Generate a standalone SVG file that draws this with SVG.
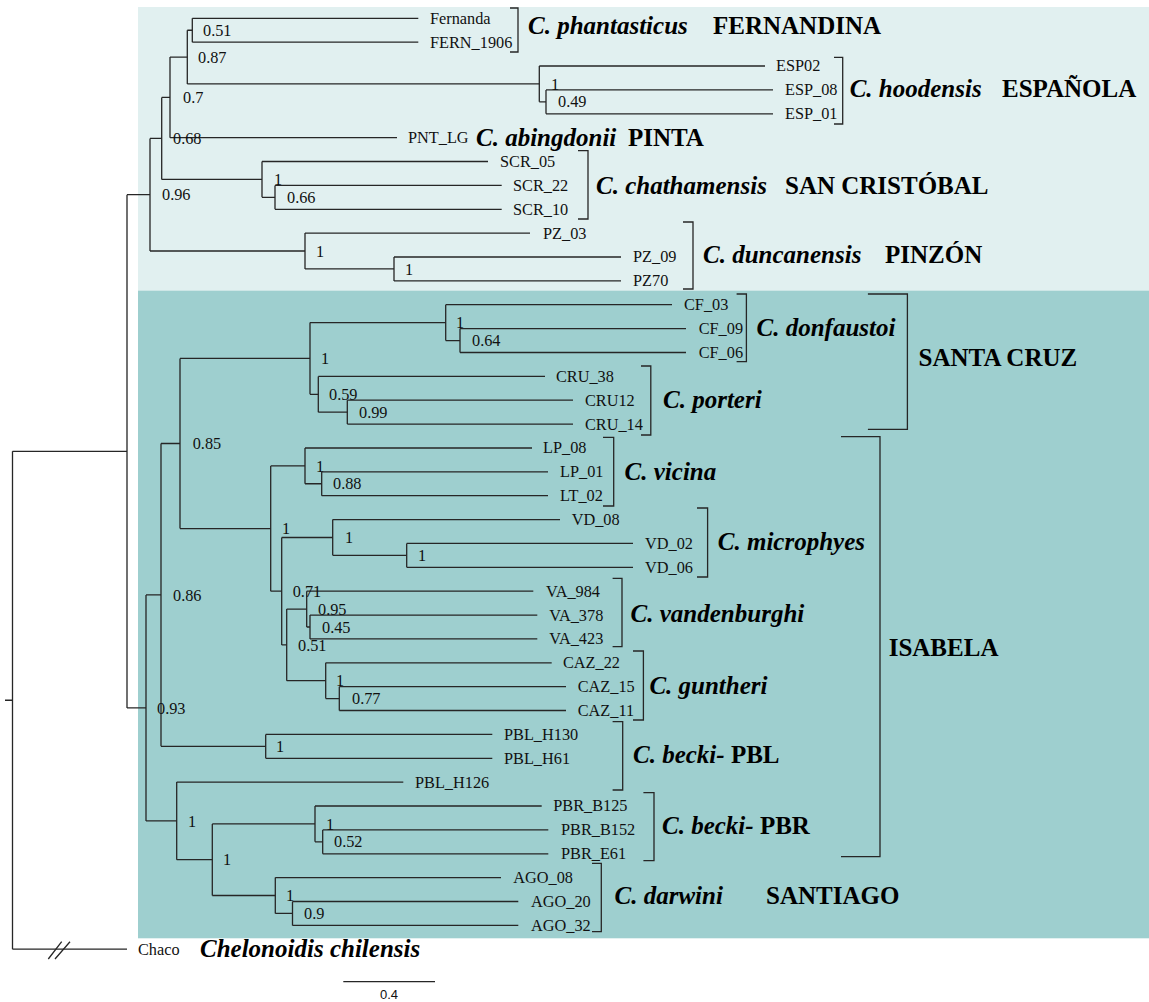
<svg xmlns="http://www.w3.org/2000/svg" width="1149" height="1002" viewBox="0 0 1149 1002">
<style>
.br{stroke:#262626;stroke-width:1.3;fill:none}
.bk{stroke:#262626;stroke-width:1.3;fill:none}
.lf{font-family:"Liberation Serif","Times New Roman",serif;font-size:16.3px;fill:#111}
.su{font-family:"Liberation Serif","Times New Roman",serif;font-size:16.3px;fill:#111}
.sp{font-family:"Liberation Serif","Times New Roman",serif;font-size:25px;font-weight:bold;font-style:italic;fill:#000}
.is{font-family:"Liberation Serif","Times New Roman",serif;font-size:25px;font-weight:bold;fill:#000}
.up{font-style:normal}
.sc{font-family:"Liberation Sans",Arial,sans-serif;font-size:13px;fill:#111}
</style>
<rect width="1149" height="1002" fill="#ffffff"/>
<g id="panel-north">
<rect x="138" y="7" width="1011" height="284" fill="#e1f0f0"/>
</g>
<g id="panel-central">
<rect x="138" y="290.7" width="1011" height="647.6" fill="#9ecfcf"/>
</g>
<g id="connectors" class="br">
<path d="M192.3 18.3V42.2M192.3 18.3H418.3M192.3 42.2H418.3"/>
<path d="M546 89.9V113.8M546 89.9H773M546 113.8H773"/>
<path d="M539.3 66V101.85M539.3 66H765M539.3 101.85H546"/>
<path d="M187.3 30.25V83.9M187.3 30.25H192.3M187.3 83.9H539.3"/>
<path d="M170 57.1V137.7M170 57.1H187.3M170 137.7H397"/>
<path d="M275 185.4V209.3M275 185.4H501.7M275 209.3H501.7"/>
<path d="M262 161.5V197.35M262 161.5H488M262 197.35H275"/>
<path d="M161.7 97.4V179.4M161.7 97.4H170M161.7 179.4H262"/>
<path d="M394 257V280.9M394 257H621M394 280.9H621"/>
<path d="M305 233.1V268.95M305 233.1H530M305 268.95H394"/>
<path d="M150 138.4V251M150 138.4H161.7M150 251H305"/>
<path d="M460 328.6V352.5M460 328.6H686M460 352.5H686"/>
<path d="M445.7 304.7V340.55M445.7 304.7H672M445.7 340.55H460"/>
<path d="M347.3 400.2V424.1M347.3 400.2H573M347.3 424.1H573"/>
<path d="M318.3 376.4V412.15M318.3 376.4H545M318.3 412.15H347.3"/>
<path d="M310 322.6V394.3M310 322.6H445.7M310 394.3H318.3"/>
<path d="M321.7 471.8V495.7M321.7 471.8H548M321.7 495.7H548"/>
<path d="M305 448V483.75M305 448H532M305 483.75H321.7"/>
<path d="M406.7 543.4V567.3M406.7 543.4H633M406.7 567.3H633"/>
<path d="M332.7 519.6V555.35M332.7 519.6H560M332.7 555.35H406.7"/>
<path d="M310 615.1V638.9M310 615.1H537.3M310 638.9H537.3"/>
<path d="M306.7 591.2V627M306.7 591.2H533.3M306.7 627H310"/>
<path d="M339.3 686.7V710.5M339.3 686.7H566M339.3 710.5H566"/>
<path d="M325.7 662.8V698.6M325.7 662.8H551.7M325.7 698.6H339.3"/>
<path d="M286.7 609.1V680.7M286.7 609.1H306.7M286.7 680.7H325.7"/>
<path d="M281.7 537.5V644.9M281.7 537.5H332.7M281.7 644.9H286.7"/>
<path d="M270.7 465.9V591.2M270.7 465.9H305M270.7 591.2H281.7"/>
<path d="M180 358.45V528.55M180 358.45H310M180 528.55H270.7"/>
<path d="M265.7 734.4V758.3M265.7 734.4H492.3M265.7 758.3H492.3"/>
<path d="M161 443.5V746.35M161 443.5H180M161 746.35H265.7"/>
<path d="M322.7 829.9V853.8M322.7 829.9H548.3M322.7 853.8H548.3"/>
<path d="M315 806V841.85M315 806H541.7M315 841.85H322.7"/>
<path d="M292.5 901.5V925.4M292.5 901.5H518.3M292.5 925.4H518.3"/>
<path d="M275.3 877.6V913.45M275.3 877.6H501M275.3 913.45H292.5"/>
<path d="M212.3 823.9V895.5M212.3 823.9H315M212.3 895.5H275.3"/>
<path d="M176.7 782.1V859.7M176.7 782.1H403.3M176.7 859.7H212.3"/>
<path d="M146 594.9V820.9M146 594.9H161M146 820.9H176.7"/>
<path d="M127 194.7V707.9M127 194.7H150M127 707.9H146"/>
<path d="M12.5 451.3V949.2M12.5 451.3H127M12.5 949.2H127M5 700.25H12.5"/>
<path d="M48.3 959L61.7 941.7M55 959L70 941.7"/>
</g>
<g id="support-values" class="su">
<text x="203" y="35.9">0.51</text>
<text x="198" y="62.7">0.87</text>
<text x="183" y="103">0.7</text>
<text x="173" y="144">0.68</text>
<text x="551" y="89.5">1</text>
<text x="558" y="107.4">0.49</text>
<text x="274" y="185">1</text>
<text x="287" y="203">0.66</text>
<text x="162" y="200.3">0.96</text>
<text x="316" y="256.6">1</text>
<text x="405" y="274.5">1</text>
<text x="456" y="328.2">1</text>
<text x="472" y="346.1">0.64</text>
<text x="321" y="364">1</text>
<text x="329" y="399.9">0.59</text>
<text x="359" y="417.7">0.99</text>
<text x="192.7" y="449.1">0.85</text>
<text x="316" y="471.5">1</text>
<text x="333" y="489.3">0.88</text>
<text x="282" y="534.1">1</text>
<text x="345" y="543.1">1</text>
<text x="418" y="560.9">1</text>
<text x="292.7" y="596.8">0.71</text>
<text x="318" y="614.7">0.95</text>
<text x="322" y="632.6">0.45</text>
<text x="298" y="650.5">0.51</text>
<text x="336" y="686.3">1</text>
<text x="352" y="704.2">0.77</text>
<text x="173" y="600.5">0.86</text>
<text x="276" y="751.9">1</text>
<text x="157" y="713.5">0.93</text>
<text x="188" y="826.5">1</text>
<text x="223" y="865.3">1</text>
<text x="326" y="829.5">1</text>
<text x="334" y="847.4">0.52</text>
<text x="286" y="901.1">1</text>
<text x="304" y="919">0.9</text>
</g>
<g id="leaves" class="lf">
<text id="leaf-Fernanda" x="430" y="23.7">Fernanda</text>
<text id="leaf-FERN_1906" x="430" y="47.6">FERN_1906</text>
<text id="leaf-ESP02" x="776" y="71.4">ESP02</text>
<text id="leaf-ESP_08" x="785" y="95.3">ESP_08</text>
<text id="leaf-ESP_01" x="785" y="119.2">ESP_01</text>
<text id="leaf-PNT_LG" x="408" y="143.1">PNT_LG</text>
<text id="leaf-SCR_05" x="500" y="166.9">SCR_05</text>
<text id="leaf-SCR_22" x="513" y="190.8">SCR_22</text>
<text id="leaf-SCR_10" x="513" y="214.7">SCR_10</text>
<text id="leaf-PZ_03" x="543" y="238.5">PZ_03</text>
<text id="leaf-PZ_09" x="633" y="262.4">PZ_09</text>
<text id="leaf-PZ70" x="633" y="286.3">PZ70</text>
<text id="leaf-CF_03" x="684" y="310.1">CF_03</text>
<text id="leaf-CF_09" x="698.7" y="334">CF_09</text>
<text id="leaf-CF_06" x="698.7" y="357.9">CF_06</text>
<text id="leaf-CRU_38" x="556" y="381.8">CRU_38</text>
<text id="leaf-CRU12" x="585" y="405.6">CRU12</text>
<text id="leaf-CRU_14" x="585" y="429.5">CRU_14</text>
<text id="leaf-LP_08" x="543" y="453.4">LP_08</text>
<text id="leaf-LP_01" x="560" y="477.2">LP_01</text>
<text id="leaf-LT_02" x="560" y="501.1">LT_02</text>
<text id="leaf-VD_08" x="571.7" y="525">VD_08</text>
<text id="leaf-VD_02" x="645" y="548.8">VD_02</text>
<text id="leaf-VD_06" x="645" y="572.7">VD_06</text>
<text id="leaf-VA_984" x="546" y="596.6">VA_984</text>
<text id="leaf-VA_378" x="549.3" y="620.5">VA_378</text>
<text id="leaf-VA_423" x="549.3" y="644.3">VA_423</text>
<text id="leaf-CAZ_22" x="563" y="668.2">CAZ_22</text>
<text id="leaf-CAZ_15" x="577.7" y="692.1">CAZ_15</text>
<text id="leaf-CAZ_11" x="577.7" y="715.9">CAZ_11</text>
<text id="leaf-PBL_H130" x="504" y="739.8">PBL_H130</text>
<text id="leaf-PBL_H61" x="504" y="763.7">PBL_H61</text>
<text id="leaf-PBL_H126" x="415" y="787.5">PBL_H126</text>
<text id="leaf-PBR_B125" x="553.3" y="811.4">PBR_B125</text>
<text id="leaf-PBR_B152" x="561" y="835.3">PBR_B152</text>
<text id="leaf-PBR_E61" x="561" y="859.2">PBR_E61</text>
<text id="leaf-AGO_08" x="513.3" y="883">AGO_08</text>
<text id="leaf-AGO_20" x="531" y="906.9">AGO_20</text>
<text id="leaf-AGO_32" x="531" y="930.8">AGO_32</text>
<text id="leaf-Chaco" x="138" y="954.6">Chaco</text>
</g>
<g id="brackets" class="bk">
<path d="M510 8H518V52H510"/>
<path d="M834 57.3H842.7V124H834"/>
<path d="M578 150.7H588V219H578"/>
<path d="M683 222H693V289H683"/>
<path d="M736.6 294H746.4V361.7H736.6"/>
<path d="M641 366H650.8V435H641"/>
<path d="M603 437.3H613.7V506H603"/>
<path d="M697 508H707.6V577H697"/>
<path d="M612.6 578.3H622V646.7H612.6"/>
<path d="M633 651H643.4V720H633"/>
<path d="M612.6 721.7H622.7V790H612.6"/>
<path d="M643.4 792.7H654V860.7H643.4"/>
<path d="M592 863.3H601.3V931.7H592"/>
<path d="M867.9 294H907.4V429.3H867.9"/>
<path d="M841 436.7H880V856.7H841"/>
</g>
<g id="species">
<text class="sp" x="528" y="34">C. phantasticus</text>
<text class="sp" x="849.7" y="97">C. hoodensis</text>
<text class="sp" x="476" y="145.5">C. abingdonii</text>
<text class="sp" x="596" y="193.5">C. chathamensis</text>
<text class="sp" x="703" y="263">C. duncanensis</text>
<text class="sp" x="756.5" y="336">C. donfaustoi</text>
<text class="sp" x="663" y="408">C. porteri</text>
<text class="sp" x="624.6" y="479.5">C. vicina</text>
<text class="sp" x="717.8" y="550">C. microphyes</text>
<text class="sp" x="630.6" y="621.5">C. vandenburghi</text>
<text class="sp" x="649.4" y="694">C. guntheri</text>
<text class="sp" x="633" y="763">C. becki- <tspan class="up">PBL</tspan></text>
<text class="sp" x="662" y="834">C. becki- <tspan class="up">PBR</tspan></text>
<text class="sp" x="614.5" y="904">C. darwini</text>
<text class="sp" x="200" y="957">Chelonoidis chilensis</text>
</g>
<g id="islands" class="is">
<text x="713" y="34">FERNANDINA</text>
<text x="1002" y="97">ESPAÑOLA</text>
<text x="628" y="145.5">PINTA</text>
<text x="785" y="193.5">SAN CRISTÓBAL</text>
<text x="885" y="263">PINZÓN</text>
<text x="918.6" y="366">SANTA CRUZ</text>
<text x="888.7" y="656">ISABELA</text>
<text x="766" y="904">SANTIAGO</text>
</g>
<g id="scale-bar">
<path class="br" d="M343.3 981.7H435"/>
<text class="sc" x="389" y="999" text-anchor="middle">0.4</text>
</g>
</svg>
